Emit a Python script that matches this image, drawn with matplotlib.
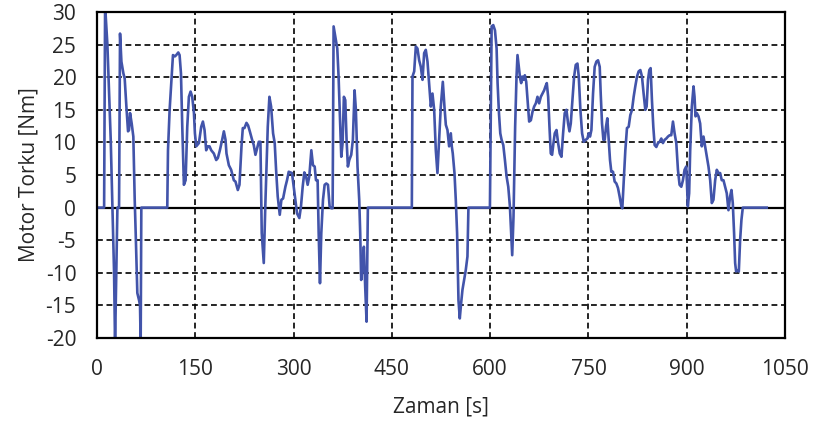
import matplotlib
matplotlib.use("Agg")
import matplotlib.pyplot as plt

# time [s]
zaman = [0, 10.7, 12.2, 15.7, 20.8, 23.4, 25.9, 27.4, 31, 33.5, 35, 37.1, 40.1, 42.1, 44.7,
         47.2, 48.7, 50.3, 52.8, 55.3, 57.4, 58.9, 61.4, 64, 65.5, 66.5, 67.5, 107.1,
         108.2, 110.7, 113.2, 115.8, 118.8, 120.8, 123.9, 125.9, 128, 130, 132.5, 135.1,
         137.6, 140.1, 142.7, 145.2, 147.8, 149.3, 151.3, 155.4, 158.9, 161.5, 164, 166.5,
         169.1, 171.6, 174.2, 178.2, 181.8, 184.3, 187.4, 190.9, 193.5, 196, 197.5, 201.1,
         204.6, 208.7, 211.2, 214.8, 217.3, 220.4, 222.4, 224.9, 228, 230.5, 233.1, 236.6,
         239.1, 241.7, 244.2, 246.8, 249.3, 251.3, 254.4, 256.9, 260.5, 263, 265.6, 268.6,
         271.1, 273.2, 275.7, 278.8, 281.3, 283.9, 287.4, 289.9,
         292.5, 297.5, 300.1, 302.6, 305.2, 308.7, 311.2, 313.8, 316.3, 318.9, 321.4, 323.9,
         327, 329.5, 332.1, 334.1, 336.6, 338.2, 340.2, 342.2, 344.8, 347.3, 349.8, 352.4,
         354.9, 357.5, 359.5, 361, 363.6, 366.6, 368.6, 370.7, 372.7, 374.7, 376.7, 378.8,
         380.8, 382.8, 384.9, 387.9, 390.4, 393, 395, 397.5, 400.1, 401.6, 403.1, 405.2,
         407.2, 409.2, 411.3, 413.3, 480.4, 481.4, 484, 486.5, 489, 491.6, 494.1, 496.7,
         499.2, 501.7, 504.3, 506.8, 509.4, 511.9, 514.5, 517, 519.5, 522.1, 524.6, 527.7,
         530.2, 532.3, 534.8, 537.3, 539.9, 541.4, 542.9, 545.5, 547.5, 549.5, 551.6, 553.6,
         555.6, 557.7, 560.2, 562.7, 565.3, 566.8,
         599.6, 602.2, 604.7, 607.3, 609.8, 611.3, 613.4, 615.4, 617.4, 620, 622.5, 625,
         627.6, 630.1, 632.1, 633.6, 635.6, 638.1, 640.2, 641.7, 643.2, 645.7, 647.3, 648.9,
         650.9, 652.9, 655, 657, 659.5, 662.1, 664.6, 667.1, 669.7, 672.2, 674.7, 677.3,
         679.8, 682.4, 684.4, 686.4, 688.5, 690.5, 692.5, 694.5, 696.6, 698.6, 701.2, 703.7,
         706.2, 708.8, 711.3, 713.8, 716.4, 718.9, 721, 723, 725.5, 728.1, 730.6, 733.2,
         735.2, 737.7, 740.3, 742.8, 745.8, 748.4, 750.4, 752.4, 754.5, 757, 759.5, 762.1,
         764.6, 767.2, 768.7, 770.7, 772.8, 774.8, 776.8, 778.8, 780.9, 782.9, 784.9, 787.5,
         790, 792.6, 795.1, 797.6, 800.2, 801.7, 803.7, 806.3, 808.8, 811.4, 813.9, 816.5,
         819, 821.5, 824.1, 826.6, 829.2, 831.7, 834.2, 836.8, 838.8, 840.9, 842.9, 844.9,
         846.9, 849, 851, 853.6, 856.1, 858.7, 861.2, 863.7, 866.3, 868.8, 871.4, 873.9,
         876.4, 879, 881.5, 884.1, 886.6, 889.1, 891.7, 894.2, 896.7, 899.3, 901.7, 903.7,
         905.3, 907.8, 910.4, 911.9, 913.4, 915.4, 918, 920.5, 923, 925.6, 928.1, 930.7,
         933.2, 935.8, 938.3, 940.8, 943.4, 945.9, 948.5, 951, 953.5, 956.1, 958.6, 961.1,
         963.7, 966.2, 968.3, 970.3, 972.3, 973.9, 975.4, 977.4, 979.5, 981.5, 983.5, 985.6,
         1022.1]

# motor torque [Nm]
tork = [0, 0, 31, 25, 10.4, 0, -10, -21, 0, 0, 26.7, 22.4, 20.6, 19.8, 15.5,
        11.7, 11.9, 14.5, 12.9, 10.9, 1.2, -3.9, -13.1, -14.2, -15, -21, 0, 0,
        8.8, 15, 19, 23.4, 23.2, 23.4, 23.8, 23.4, 20.6, 12.4, 3.5, 4.2,
        12.4, 17, 17.8, 17, 14.5, 11.4, 9.4, 9.9, 12.4, 13.2, 11.9, 8.8,
        9.4, 9.4, 8.8, 8.3, 7.3, 7.6, 8.8, 10.4, 11.7, 10.4, 8.3, 6.5,
        5.8, 4.2, 4.0, 2.7, 3.5, 9.4, 12.2, 12.2, 13, 12.6, 11.7, 10.4,
        9.6, 8.1, 9.1, 10.1, 10.1, -3.9, -8.5, 0.8, 12.4, 17, 15.5, 11.4,
        9.9, 5.8, 1.7, -1.1, 1.2, 1.4, 3.2, 4.2,
        5.5, 5.3, 3.2, 1.2, -0.9, -1.6, 0.2, 3.2, 5.4, 4.8, 3.5, 4.8,
        8.8, 6.5, 6.3, 4.2, 4.2, -3.9, -11.6, -3.9, 1.2, 3.5, 3.7, 3.5,
        0.2, -0.1, -0.1, 27.8, 26.2, 24.4, 20.1, 14, 7.8, 9.9, 17, 16.5,
        10.4, 6.3, 7.3, 8.1, 10.4, 18, 15, 6.3, 1.2, -3.9, -11.1, -9.1,
        -6, -12.1, -17.5, 0, 0, 20.1, 20.9, 24.7, 24.4, 22.6, 21.6, 19.6,
        23.7, 24.2, 22.4, 19.1, 15.5, 17.5, 15, 8.8, 5.3, 10.4, 15.5, 19.3,
        15.5, 12.7, 11.9, 9.4, 11.4, 9.4, 8.3, 5.3, 1.2, -3.9, -14.2, -17,
        -14.7, -12.6, -11.1, -9.6, -7.5, 0,
        0, 27.8, 28, 27.2, 24.4, 19.1, 14.5, 11.4, 10.4, 9.6, 7.3, 4.8,
        3.2, 0.2, -3.9, -7.3, -1.4, 12.4, 20.1, 23.4, 22.1, 19.8, 19.1, 20.1,
        19.6, 20.3, 19.3, 16.5, 13.2, 13.4, 14.7, 15.5, 16, 17, 16, 17,
        17.5, 18, 18.6, 19.1, 17, 12.4, 8.3, 8.1, 9.9, 11.4, 11.9, 9.9,
        8.3, 7.8, 11.4, 14.5, 15, 12.9, 11.7, 12.9, 16.5, 20.1, 21.9, 22.1,
        20.1, 15, 11.4, 10.1, 10.4, 10.6, 11.4, 10.9, 11.9, 17.5, 21.6, 22.4,
        22.6, 21.6, 17.5, 12.9, 10.4, 10.4, 12.4, 13.7, 10.4, 7.3, 5.5, 5.5,
        4, 3.7, 3, 1.7, 0.2, -0.1, 3.7, 8.8, 12.2, 12.4, 14.2, 15,
        17, 18.6, 20.1, 20.9, 21.1, 20.1, 17.5, 15, 15.5, 19.6, 21.1, 21.4,
        16.5, 12.4, 9.6, 9.3, 9.9, 10.1, 10.6, 9.9, 10.4, 10.6, 10.9, 11.1,
        11.1, 13.2, 11.4, 9.9, 5.8, 3.5, 3.2, 4.2, 5.8, 6.3, 0.2, 2.2,
        8.8, 15.5, 18.6, 17, 14, 14.5, 14, 12.9, 9.4, 10.9, 9.4, 7.8,
        6.3, 4.2, 0.7, 1.2, 4.2, 5.8, 5.3, 5.3, 4.2, 4.2, 3.2, 2.2,
        -0.4, 1.7, 2.7, 0.7, -3.9, -8.5, -9.8, -9.6, -9.8, -5, -1.9, 0,
        0]

x_ticks = [0, 150, 300, 450, 600, 750, 900, 1050]
y_ticks = [-20, -15, -10, -5, 0, 5, 10, 15, 20, 25, 30]

plt.rcParams['font.family'] = ['Open Sans', 'DejaVu Sans']
plt.rcParams['axes.unicode_minus'] = False

fig = plt.figure(figsize=(8.16, 4.23), dpi=100)
ax = fig.add_axes([0.119, 0.201, 0.843, 0.7705])

for v in x_ticks[1:-1]:
    ax.axvline(v, color='black', lw=1.2, ls=(0, (3.5, 2.2)), zorder=1)
for v in y_ticks[1:-1]:
    if v == 0:
        ax.axhline(v, color='black', lw=1.6, zorder=1)
    else:
        ax.axhline(v, color='black', lw=1.2, ls=(0, (3.5, 2.2)), zorder=1)

ax.plot(zaman, tork, color='#4254AA', lw=1.9, zorder=3, solid_joinstyle='round')

ax.set_xlim(0, 1050)
ax.set_ylim(-20, 30)
ax.set_xticks(x_ticks)
ax.set_yticks(y_ticks)
ax.tick_params(axis='both', length=0, labelsize=15, colors='#262626')
ax.tick_params(axis='x', pad=15)
ax.tick_params(axis='y', pad=15)
for s in ax.spines.values():
    s.set_linewidth(1.6)
    s.set_color('black')
    s.set_zorder(4)

ax.set_xlabel('Zaman [s]', fontsize=15, color='#262626', labelpad=12)
ax.set_ylabel('Motor Torku [Nm]', fontsize=15, color='#262626', labelpad=4)

fig.savefig('out.png', dpi=100)
